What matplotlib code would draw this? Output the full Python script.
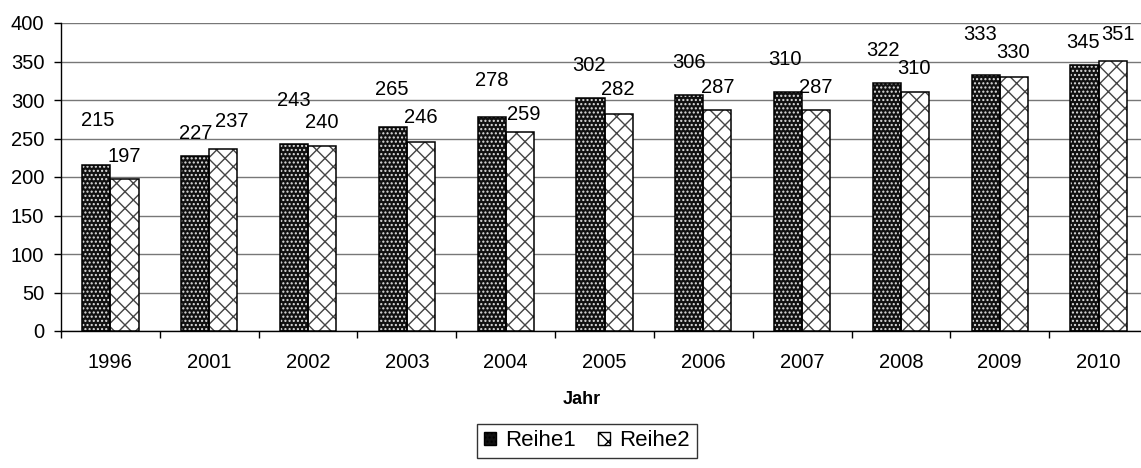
import matplotlib
matplotlib.use('Agg')
import matplotlib.pyplot as plt
from matplotlib.patches import Patch
import numpy as np

plt.rcParams['font.family'] = ['Liberation Sans', 'DejaVu Sans']
plt.rcParams['hatch.linewidth'] = 1.0

jahre = ['1996', '2001', '2002', '2003', '2004', '2005', '2006', '2007', '2008', '2009', '2010']
reihe1 = [215, 227, 243, 265, 278, 302, 306, 310, 322, 333, 345]
reihe2 = [197, 237, 240, 246, 259, 282, 287, 287, 310, 330, 351]

# label offsets in pixels (dx, dy) from the top centre of each bar
offs1 = [(1, 45), (1, 23), (0, 43), (-1, 37), (0, 36), (-1, 33), (0, 33), (-3, 33), (-4, 33), (-6, 40), (-1, 23)]
offs2 = [(0, 23), (8, 27), (0, 24), (0, 24), (4, 17), (-1, 24), (0, 23), (0, 23), (-1, 24), (-1, 24), (5, 26)]

fs = 14.5

fig = plt.figure(figsize=(11.41, 4.68), dpi=100)
ax = fig.add_axes([61 / 1141, 1 - 331 / 468, 1087 / 1141, 308 / 468])

x = np.arange(len(jahre))
w = 0.285

# fill + hatch
ax.bar(x - w / 2, reihe1, w, color='#111111', edgecolor='#e0e0e0', hatch='....', linewidth=0, zorder=3)
ax.bar(x + w / 2, reihe2, w, color='white', edgecolor='#444444', hatch='xx', linewidth=0, zorder=3)
# outlines
ax.bar(x - w / 2, reihe1, w, fill=False, edgecolor='black', linewidth=1.1, zorder=4)
ax.bar(x + w / 2, reihe2, w, fill=False, edgecolor='black', linewidth=1.1, zorder=4)

for i in range(len(jahre)):
    ax.annotate(str(reihe1[i]), (x[i] - w / 2, reihe1[i]), xytext=offs1[i],
                textcoords='offset pixels', ha='center', va='center', fontsize=fs, zorder=5)
    ax.annotate(str(reihe2[i]), (x[i] + w / 2, reihe2[i]), xytext=offs2[i],
                textcoords='offset pixels', ha='center', va='center', fontsize=fs, zorder=5)

ax.set_xlim(-0.5, len(jahre) - 0.5)
ax.set_ylim(0, 400)
ax.set_yticks(range(0, 401, 50))
ax.set_xticks(x)
ax.set_xticklabels(jahre)
ax.set_xticks(np.arange(-0.5, len(jahre), 1), minor=True)
ax.tick_params(axis='x', which='major', length=0, pad=16, labelsize=fs)
ax.tick_params(axis='x', which='minor', length=5, width=1, direction='out')
ax.tick_params(axis='y', length=5, width=1, direction='out', labelsize=fs, pad=7)

ax.grid(axis='y', color='#777777', linewidth=1, zorder=0)
ax.set_axisbelow(True)
for s in ['top', 'right']:
    ax.spines[s].set_visible(False)
ax.spines['left'].set_linewidth(1)
ax.spines['bottom'].set_linewidth(1)

fig.text(582 / 1141, 1 - 400 / 468, 'Jahr', fontsize=13, fontweight='bold', ha='center', va='center')

handles = [Patch(facecolor='#111111', edgecolor='black', hatch='....', label='Reihe1'),
           Patch(facecolor='white', edgecolor='black', hatch='xx', label='Reihe2')]
leg = fig.legend(handles=handles, loc='center', bbox_to_anchor=(587 / 1141, 1 - 441 / 468), ncol=2,
                 frameon=True, fancybox=False, edgecolor='black', fontsize=16,
                 handlelength=0.55, handleheight=0.55, handletextpad=0.4, columnspacing=1.0,
                 borderpad=0.3)
leg.get_frame().set_linewidth(1)

fig.savefig('out.png', dpi=100)
